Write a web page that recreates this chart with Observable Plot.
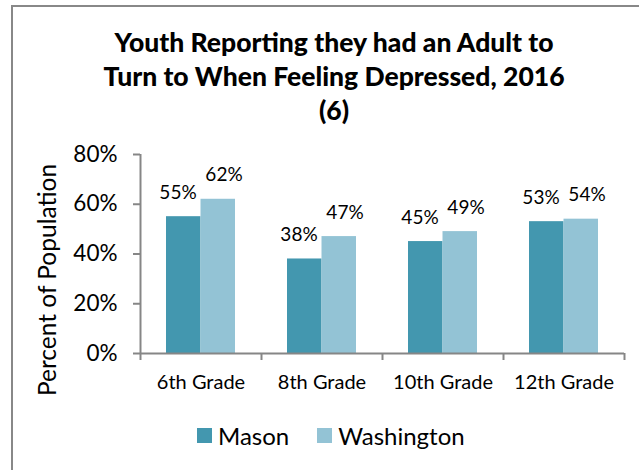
<!DOCTYPE html>
<html>
<head>
<meta charset="utf-8">
<script src="https://cdn.jsdelivr.net/npm/d3@7"></script>
<script src="https://cdn.jsdelivr.net/npm/@observablehq/plot@0.6"></script>
<style>
  html, body { margin: 0; padding: 0; background: #fff; }
  #wrap { position: relative; width: 639px; height: 470px; overflow: hidden; font-family: Lato, "Open Sans", sans-serif; }
  #border { position: absolute; left: 11px; top: 5px; width: 700px; height: 600px; border-left: 2px solid #888; border-top: 2px solid #888; box-sizing: border-box; }
  #title { position: absolute; left: 30px; width: 608px; top: 25px; text-align: center; font-weight: 900; font-size: 26.5px; line-height: 34px; color: #000; }
  #ytitle { position: absolute; left: 46px; top: 280px; transform: translate(-50%, -50%) rotate(-90deg); white-space: nowrap; font-size: 24.5px; color: #000; }
  #legend { position: absolute; top: 421px; left: 197px; display: flex; align-items: center; font-size: 24px; color: #000; }
  .sw { display: inline-block; width: 15px; height: 15px; margin-right: 6px; }
  .item { display: flex; align-items: center; margin-right: 28px; }
  #chart { position: absolute; left: 0; top: 0; }
</style>
</head>
<body>
<div id="wrap">
  <div id="border"></div>
  <div id="title">Youth Reporting they had an Adult to<br>Turn to When Feeling Depressed, 2016<br>(6)</div>
  <div id="ytitle">Percent of Population</div>
  <div id="chart"></div>
  <div id="legend"></div>
</div>
<script>
const grades = ["6th Grade", "8th Grade", "10th Grade", "12th Grade"];
const series = ["Mason", "Washington"];
const mason = [55, 38, 45, 53];
const washington = [62, 47, 49, 54];
const yTicks = [0, 20, 40, 60, 80];
const colors = ["#4397AF", "#93C3D5"];

const rows = [];
grades.forEach((g, i) => {
  rows.push({grade: g, series: "Mason", value: mason[i]});
  rows.push({grade: g, series: "Washington", value: washington[i]});
});
const masonRows = rows.filter(d => d.series === "Mason");
const washRows = rows.filter(d => d.series === "Washington");

const W = 639, H = 470, mL = 140, mR = 15, mT = 154, mB = 117;
const half = (W - mL - mR) / grades.length / 2;
const frameH = H - mT - mB;
const axisGray = "#868686";

const plot = Plot.plot({
  width: W, height: H,
  marginLeft: mL, marginRight: mR, marginTop: mT, marginBottom: mB,
  style: {fontFamily: "Lato, 'Open Sans', sans-serif", color: "#000", background: "transparent", overflow: "visible"},
  x: {domain: grades, padding: 0, axis: null},
  y: {domain: [0, 80], axis: null},
  marks: [
    Plot.barY(masonRows, {x: "grade", y: "value", fill: colors[0], insetLeft: half - 34.5, insetRight: half}),
    Plot.barY(washRows, {x: "grade", y: "value", fill: colors[1], insetLeft: half, insetRight: half - 34.5}),
    Plot.ruleY([0], {stroke: axisGray, strokeWidth: 2}),
    Plot.ruleX([grades[0]], {x: d => d, dx: -half, stroke: axisGray, strokeWidth: 2, insetBottom: -7}),
    Plot.ruleX(grades.slice(1), {x: d => d, dx: -half, stroke: axisGray, strokeWidth: 2, insetTop: frameH, insetBottom: -7}),
    Plot.ruleX([grades[grades.length - 1]], {x: d => d, dx: half, stroke: axisGray, strokeWidth: 2, insetTop: frameH, insetBottom: -7}),
    Plot.axisY(yTicks, {tickSize: 7, tickPadding: 16, tickFormat: d => d + "%", fontSize: 22.5, stroke: axisGray, strokeWidth: 2, label: null, fill: "#000"}),
    Plot.axisX(grades, {tickSize: 0, tickPadding: 21, fontSize: 20, label: null, fill: "#000"}),
    Plot.text(masonRows, {x: "grade", y: "value", text: d => d.value + "%", dx: -23, dy: -24, fontSize: 19, fill: "#000"}),
    Plot.text(washRows, {x: "grade", y: "value", text: d => d.value + "%", dx: 23, dy: -24, fontSize: 19, fill: "#000"})
  ]
});
document.getElementById("chart").appendChild(plot);

const legend = document.getElementById("legend");
series.forEach((s, i) => {
  const item = document.createElement("div");
  item.className = "item";
  const sw = document.createElement("span");
  sw.className = "sw";
  sw.style.background = colors[i];
  const t = document.createElement("span");
  t.textContent = s;
  item.appendChild(sw);
  item.appendChild(t);
  legend.appendChild(item);
});
</script>
</body>
</html>
